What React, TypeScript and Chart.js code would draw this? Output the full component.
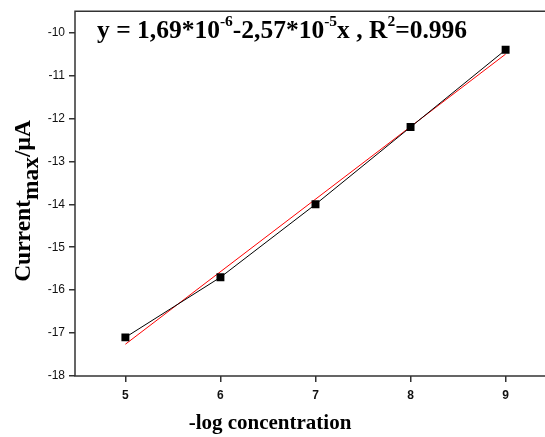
import { useEffect, useRef } from 'react';
import { Chart, registerables } from 'chart.js';

Chart.register(...registerables);

const concentration = [5, 6, 7, 8, 9];
const currentMax = [-17.1, -15.7, -14.0, -12.2, -10.4];
const fitX = [5, 9];
const fitY = [-17.26, -10.5];
const xTicks = [5, 6, 7, 8, 9];
const yTicks = [-18, -17, -16, -15, -14, -13, -12, -11, -10];
const xTitle = '-log concentration';
const yTitleMain = 'Current';
const yTitleSub = 'max';
const yTitleTail = '/μA';
// [text, isSuperscript]
const equationParts: [string, boolean][] = [
  ['y = 1,69*10', false],
  ['-6', true],
  ['-2,57*10', false],
  ['-5', true],
  ['x , R', false],
  ['2', true],
  ['=0.996', false],
];

const SERIF = '"Liberation Serif", "Times New Roman", serif';
const SANS = '"Liberation Sans", Arial, sans-serif';

const decorPlugin = {
  id: 'decor',
  afterDraw(chart: any) {
    const { ctx, chartArea, width } = chart;
    ctx.save();
    // frame lines (left, bottom, top), running off the right edge
    ctx.strokeStyle = '#333';
    ctx.lineWidth = 1.5;
    ctx.beginPath();
    ctx.moveTo(width, chartArea.top);
    ctx.lineTo(chartArea.left, chartArea.top);
    ctx.lineTo(chartArea.left, chartArea.bottom);
    ctx.lineTo(width, chartArea.bottom);
    ctx.stroke();

    ctx.fillStyle = '#000';
    ctx.textBaseline = 'alphabetic';
    ctx.textAlign = 'left';
    // equation
    let x = 97;
    const base = 38;
    for (const [t, sup] of equationParts) {
      ctx.font = sup ? `bold 15.5px ${SERIF}` : `bold 25.5px ${SERIF}`;
      ctx.fillText(t, x, sup ? base - 12 : base);
      x += ctx.measureText(t).width;
    }

    // x title
    ctx.font = `bold 21px ${SERIF}`;
    ctx.textAlign = 'center';
    ctx.fillText(xTitle, 270, 429);

    // y title (rotated)
    ctx.textAlign = 'left';
    const fMain = `bold 23.5px ${SERIF}`;
    ctx.font = fMain;
    const w1 = ctx.measureText(yTitleMain).width;
    const w2 = ctx.measureText(yTitleSub).width;
    const w3 = ctx.measureText(yTitleTail).width;
    const total = w1 + w2 + w3;
    ctx.translate(30, 201);
    ctx.rotate(-Math.PI / 2);
    let tx = -total / 2;
    ctx.fillText(yTitleMain, tx, 0);
    tx += w1;
    ctx.fillText(yTitleSub, tx, 8);
    tx += w2;
    ctx.fillText(yTitleTail, tx, 0);
    ctx.restore();
  },
};

export default function App() {
  const ref = useRef<HTMLCanvasElement>(null);
  useEffect(() => {
    if (!ref.current) return;
    const chart = new Chart(ref.current, {
      type: 'scatter',
      data: {
        datasets: [
          {
            data: concentration.map((c, i) => ({ x: c, y: currentMax[i] })),
            borderColor: '#000',
            backgroundColor: '#000',
            borderWidth: 1,
            showLine: true,
            pointStyle: 'rect',
            pointRadius: 5.6,
            pointBorderWidth: 0,
            order: 0,
          },
          {
            data: fitX.map((c, i) => ({ x: c, y: fitY[i] })),
            borderColor: '#ff0000',
            borderWidth: 1,
            showLine: true,
            pointRadius: 0,
            order: 1,
          },
        ],
      },
      options: {
        animation: false,
        responsive: false,
        devicePixelRatio: 1,
        layout: { padding: { top: 10, right: 14, left: 0, bottom: 0 } },
        plugins: { legend: { display: false }, tooltip: { enabled: false } },
        scales: {
          x: {
            type: 'linear',
            min: 4.47,
            max: 9.53,
            afterBuildTicks: (s: any) => {
              s.ticks = xTicks.map((v) => ({ value: v }));
            },
            afterFit: (s: any) => {
              s.height = 61;
            },
            grid: { drawOnChartArea: false, drawTicks: true, tickLength: 6, color: '#333', lineWidth: 1.5 },
            border: { display: false },
            ticks: {
              color: '#111',
              font: { family: SANS, size: 12, weight: 'bold' },
              padding: 6,
              maxRotation: 0,
            },
          },
          y: {
            type: 'linear',
            min: -18,
            max: -9.5,
            afterBuildTicks: (s: any) => {
              s.ticks = yTicks.map((v) => ({ value: v }));
            },
            afterFit: (s: any) => {
              s.width = 75;
            },
            grid: { drawOnChartArea: false, drawTicks: true, tickLength: 6, color: '#333', lineWidth: 1.5 },
            border: { display: false },
            ticks: {
              color: '#111',
              font: { family: SANS, size: 12 },
              padding: 4,
            },
          },
        },
      },
      plugins: [decorPlugin],
    });
    return () => chart.destroy();
  }, []);
  return (
    <div style={{ position: 'fixed', left: 0, top: 0, width: 545, height: 437, overflow: 'hidden', background: '#fff' }}>
      <canvas ref={ref} width={570} height={437} style={{ width: 570, height: 437, display: 'block' }} />
    </div>
  );
}
